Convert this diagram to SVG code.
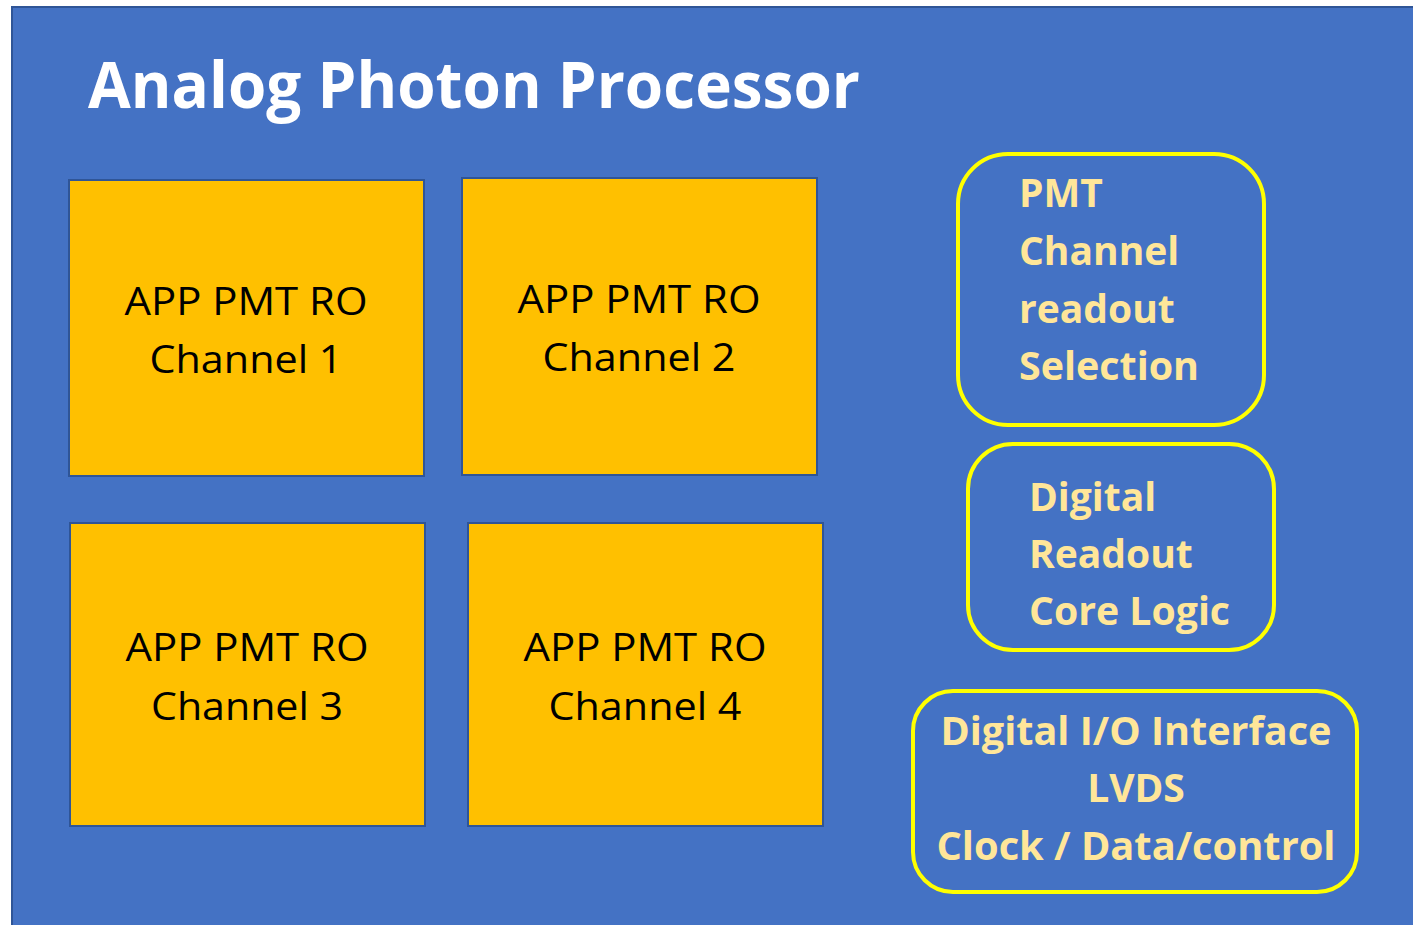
<svg xmlns="http://www.w3.org/2000/svg" width="1413" height="925" viewBox="0 0 1413 925">
<style>
.bg{fill:#4472C4;stroke:#2F5597;stroke-width:2}
.ch{fill:#FFC000;stroke:#2F5597;stroke-width:2}
.rb{fill:#4472C4;stroke:#FFFF00;stroke-width:4}
.title{font-family:"Open Sans","Liberation Sans",sans-serif;font-weight:bold;font-size:64px;fill:#FFFFFF}
.ct{font-family:"Open Sans","Liberation Sans",sans-serif;font-size:38px;fill:#000000;text-anchor:middle}
.yt{font-family:"Open Sans","Liberation Sans",sans-serif;font-weight:bold;font-size:39px;fill:#FFE699}
</style>
<rect x="0" y="0" width="1413" height="925" fill="#FFFFFF"/>
<rect class="bg" x="12" y="7" width="1410" height="930"/>
<text class="title" x="88" y="108" textLength="772" lengthAdjust="spacingAndGlyphs">Analog Photon Processor</text>
<g id="ch1">
<rect class="ch" x="69" y="180" width="355" height="296"/>
<text class="ct" x="246" y="315" textLength="243" lengthAdjust="spacingAndGlyphs">APP PMT RO</text>
<text class="ct" x="246" y="373" textLength="193" lengthAdjust="spacingAndGlyphs">Channel 1</text>
</g>
<g id="ch2">
<rect class="ch" x="462" y="178" width="355" height="297"/>
<text class="ct" x="639" y="313" textLength="243" lengthAdjust="spacingAndGlyphs">APP PMT RO</text>
<text class="ct" x="639" y="371" textLength="193" lengthAdjust="spacingAndGlyphs">Channel 2</text>
</g>
<g id="ch3">
<rect class="ch" x="70" y="523" width="355" height="303"/>
<text class="ct" x="247" y="661" textLength="243" lengthAdjust="spacingAndGlyphs">APP PMT RO</text>
<text class="ct" x="247" y="720" textLength="192" lengthAdjust="spacingAndGlyphs">Channel 3</text>
</g>
<g id="ch4">
<rect class="ch" x="468" y="523" width="355" height="303"/>
<text class="ct" x="645" y="661" textLength="243" lengthAdjust="spacingAndGlyphs">APP PMT RO</text>
<text class="ct" x="645" y="720" textLength="193" lengthAdjust="spacingAndGlyphs">Channel 4</text>
</g>
<g id="sel">
<rect class="rb" x="958" y="154" width="306" height="271" rx="50"/>
<text class="yt" x="1019" y="207">PMT</text>
<text class="yt" x="1019" y="265">Channel</text>
<text class="yt" x="1019" y="323">readout</text>
<text class="yt" x="1019" y="380" textLength="180" lengthAdjust="spacingAndGlyphs">Selection</text>
</g>
<g id="core">
<rect class="rb" x="968" y="444" width="306" height="206" rx="45"/>
<text class="yt" x="1029" y="511">Digital</text>
<text class="yt" x="1029" y="568">Readout</text>
<text class="yt" x="1029" y="625" textLength="201" lengthAdjust="spacingAndGlyphs">Core Logic</text>
</g>
<g id="io">
<rect class="rb" x="913" y="691" width="444" height="201" rx="40"/>
<text class="yt" x="1136" y="745" text-anchor="middle" textLength="391" lengthAdjust="spacingAndGlyphs">Digital I/O Interface</text>
<text class="yt" x="1136" y="802" text-anchor="middle">LVDS</text>
<text class="yt" x="1136" y="860" text-anchor="middle" textLength="399" lengthAdjust="spacingAndGlyphs">Clock / Data/control</text>
</g>
<g id="connectors"/>
</svg>
